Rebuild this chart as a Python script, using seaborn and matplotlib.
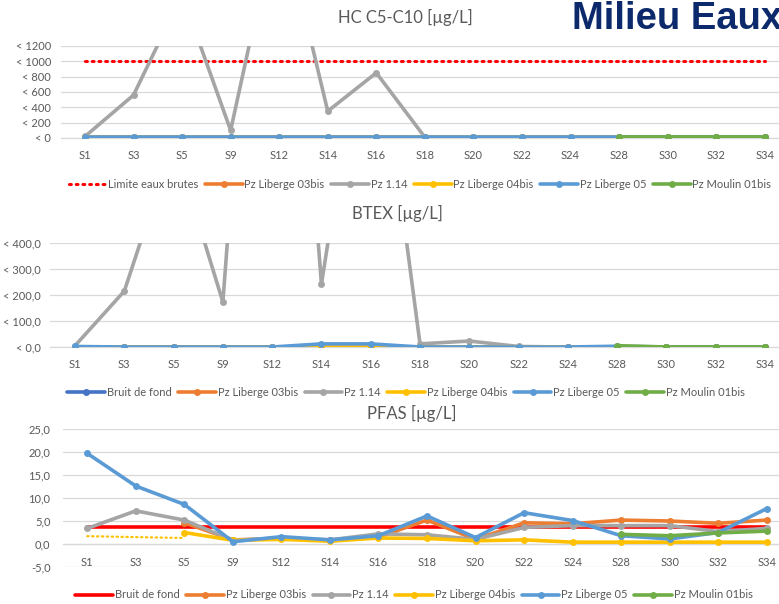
import numpy as np
import pandas as pd
import matplotlib.pyplot as plt
import seaborn as sns

sns.set_theme(style='white')
plt.rcParams['font.family'] = ['Lato', 'DejaVu Sans']

campagnes = ['S1', 'S3', 'S5', 'S9', 'S12', 'S14', 'S16', 'S18', 'S20', 'S22',
             'S24', 'S28', 'S30', 'S32', 'S34']
nan = np.nan

# HC C5-C10
hc_limite = [1000] * 15
hc_03bis = [10] * 15
hc_114 = [20, 560, 1870, 100, 3000, 350, 850, 10, 10, 10, 10, 10, 10, 10, 10]
hc_04bis = [10] * 15
hc_05 = [10] * 15
hc_moulin = [nan] * 11 + [10, 10, 10, 10]
hc_ticks = [0, 200, 400, 600, 800, 1000, 1200]
hc_ticklabels = ['< 0', '< 200', '< 400', '< 600', '< 800', '< 1000', '< 1200']

# BTEX
bt_bruit = [0] * 15
bt_03bis = [0] * 15
bt_114 = [5, 215, 790, 173, 2700, 242, 1450, 12, 23, 2, 0, 0, 0, 0, 0]
bt_04bis = [0] * 15
bt_05 = [2, 0, 0, 0, 0, 12, 12, 0, 0, 0, 0, 3, 0, 0, 0]
bt_moulin = [nan] * 11 + [5, 0, 0, 0]
bt_ticks = [0, 100, 200, 300, 400]
bt_ticklabels = ['< 0,0', '< 100,0', '< 200,0', '< 300,0', '< 400,0']

# PFAS
pf_bruit = [3.8] * 15
pf_03bis = [nan, nan, 4.6, 0.9, 1.2, 0.8, 1.5, 5.2, 1.0, 4.6, 4.4, 5.2, 5.0, 4.5, 5.2]
pf_114 = [3.4, 7.2, 5.2, 0.8, 1.3, 0.9, 2.2, 2.0, 1.0, 3.6, 4.0, 4.0, 4.0, 2.7, 3.4]
pf_04bis = [nan, nan, 2.5, 0.8, 1.0, 0.6, 1.3, 1.2, 0.7, 0.9, 0.4, 0.4, 0.4, 0.4, 0.4]
pf_04bis_pointille = [1.7, 1.5, 1.3] + [nan] * 12
pf_05 = [19.7, 12.6, 8.6, 0.5, 1.6, 0.9, 1.8, 6.1, 1.4, 6.8, 5.1, 1.8, 1.1, 2.5, 7.7]
pf_moulin = [nan] * 11 + [2.1, 1.8, 2.4, 2.8]
pf_ticks = [-5, 0, 5, 10, 15, 20, 25]
pf_ticklabels = ['-5,0', '0,0', '5,0', '10,0', '15,0', '20,0', '25,0']

orange = '#ED7D31'
gris = '#A5A5A5'
jaune = '#FFC000'
bleu = '#5B9BD5'
vert = '#70AD47'
bleu_fonce = '#4472C4'
rouge = '#FF0000'
texte = '#595959'
grille = '#D9D9D9'

W, H = 779, 604
fig = plt.figure(figsize=(W / 100, H / 100), dpi=100)
fig.patch.set_facecolor('white')


def make_ax(left, top, right, bottom):
    return fig.add_axes([left / W, 1 - bottom / H, (right - left) / W, (bottom - top) / H])


x = np.arange(len(campagnes))


def serie(ax, vals, color, label, marker='o', ls='-', lw=2.6, ms=5):
    df = pd.DataFrame({'x': x, 'y': np.array(vals, dtype=float)}).dropna()
    sns.lineplot(data=df, x='x', y='y', ax=ax, color=color, label=label, marker=marker,
                 linestyle=ls, linewidth=lw, markersize=ms, markeredgewidth=0,
                 sort=False, legend=False)


def habillage(ax, ticks, ticklabels, pad_y):
    ax.set_xlim(-0.5, len(campagnes) - 0.5)
    ax.set_ylim(ticks[0], ticks[-1])
    ax.set_yticks(ticks)
    ax.set_yticklabels(ticklabels)
    ax.set_xticks(x)
    ax.set_xticklabels(campagnes)
    ax.set_xlabel('')
    ax.set_ylabel('')
    ax.yaxis.grid(True, color=grille, linewidth=0.9)
    ax.set_axisbelow(True)
    for s in ['top', 'right', 'left']:
        ax.spines[s].set_visible(False)
    ax.spines['bottom'].set_color(grille)
    ax.spines['bottom'].set_linewidth(0.9)
    ax.spines['bottom'].set_zorder(0.5)
    ax.tick_params(axis='both', length=0, labelsize=8, labelcolor=texte)
    ax.tick_params(axis='x', pad=9)
    ax.tick_params(axis='y', pad=pad_y)


def legende(ax, cx, cy):
    handles, labels = ax.get_legend_handles_labels()
    fig.legend(handles, labels, loc='center', bbox_to_anchor=(cx / W, 1 - cy / H),
               ncol=6, frameon=False, fontsize=8, labelcolor=texte, handlelength=3.4,
               handletextpad=0.15, columnspacing=0.6, numpoints=1, borderpad=0)


# Panel 1 : HC C5-C10
ax1 = make_ax(60.7, 46, 789, 138)
ax1.plot(x, hc_limite, color=rouge, linestyle=(0, (0.6, 1.6)), linewidth=2.2,
         dash_capstyle='round', label='Limite eaux brutes')
serie(ax1, hc_03bis, orange, 'Pz Liberge 03bis')
serie(ax1, hc_114, gris, 'Pz 1.14')
serie(ax1, hc_04bis, jaune, 'Pz Liberge 04bis')
serie(ax1, hc_05, bleu, 'Pz Liberge 05')
serie(ax1, hc_moulin, vert, 'Pz Moulin 01bis')
habillage(ax1, hc_ticks, hc_ticklabels, 7)
legende(ax1, 420, 184)
fig.text(405 / W, 1 - 17 / H, 'HC C5-C10 [µg/L]', ha='center', va='center',
         fontsize=12, color=texte)

# Panel 2 : BTEX
ax2 = make_ax(50.4, 243, 789.6, 347)
serie(ax2, bt_bruit, bleu_fonce, 'Bruit de fond')
serie(ax2, bt_03bis, orange, 'Pz Liberge 03bis')
serie(ax2, bt_114, gris, 'Pz 1.14')
serie(ax2, bt_04bis, jaune, 'Pz Liberge 04bis')
serie(ax2, bt_05, bleu, 'Pz Liberge 05')
serie(ax2, bt_moulin, vert, 'Pz Moulin 01bis')
habillage(ax2, bt_ticks, bt_ticklabels, 7)
legende(ax2, 406, 392)
fig.text(397 / W, 1 - 213 / H, 'BTEX [µg/L]', ha='center', va='center',
         fontsize=12, color=texte)

# Panel 3 : PFAS
ax3 = make_ax(63, 429, 791, 567)
serie(ax3, pf_bruit, rouge, 'Bruit de fond', marker=None)
serie(ax3, pf_03bis, orange, 'Pz Liberge 03bis')
serie(ax3, pf_114, gris, 'Pz 1.14')
serie(ax3, pf_04bis, jaune, 'Pz Liberge 04bis')
serie(ax3, pf_05, bleu, 'Pz Liberge 05')
serie(ax3, pf_moulin, vert, 'Pz Moulin 01bis')
ax3.plot(x, np.array(pf_04bis_pointille, dtype=float), color=jaune,
         linestyle=(0, (0.6, 1.6)), linewidth=1.6, dash_capstyle='round')
habillage(ax3, pf_ticks, pf_ticklabels, 9)
ax3.spines['bottom'].set_position(('data', 0))
legende(ax3, 414, 595)
fig.text(412 / W, 1 - 413 / H, 'PFAS [µg/L]', ha='center', va='center',
         fontsize=12, color=texte)

fig.text(572 / W, 1 - 19 / H, 'Milieu Eaux', ha='left', va='center', fontsize=27.5,
         fontweight='bold', color='#0C2A6B', family=['Liberation Sans', 'DejaVu Sans'])

fig.savefig('out.png', dpi=100)
